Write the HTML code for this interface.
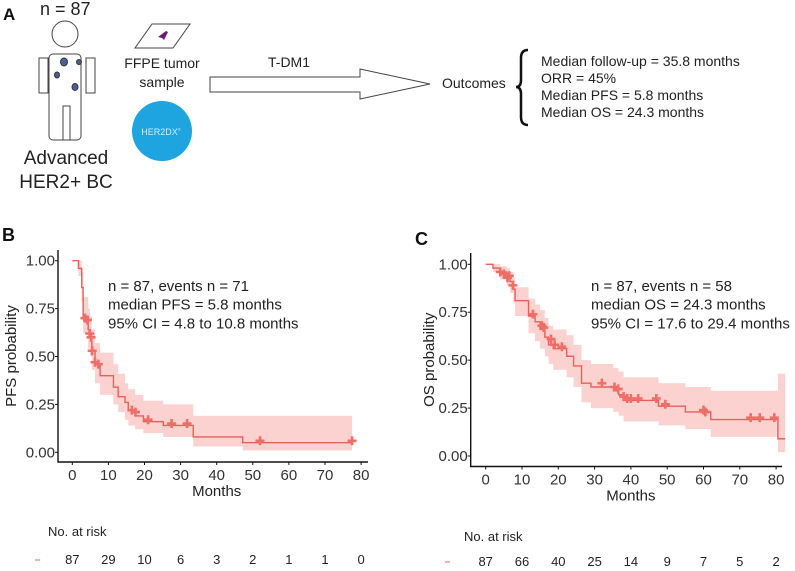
<!DOCTYPE html>
<html><head><meta charset="utf-8">
<style>
html,body{margin:0;padding:0;background:#fff;}
body{width:795px;height:566px;overflow:hidden;font-family:"Liberation Sans",sans-serif;}
svg text{font-family:"Liberation Sans",sans-serif;}
</style></head>
<body>
<svg id="fig" width="795" height="566" viewBox="0 0 795 566" xmlns="http://www.w3.org/2000/svg">
  <g>
    <text x="3" y="20" font-size="17" font-weight="bold" fill="#111">A</text>
    <text x="40" y="15" font-size="18" fill="#222">n = 87</text>
    <g fill="#fff" stroke="#444" stroke-width="1">
      <circle cx="65" cy="34" r="13"/>
      <rect x="49" y="54" width="32" height="86" rx="4"/>
      <rect x="39" y="58" width="9" height="35"/>
      <rect x="86" y="58" width="9" height="35"/>
      <rect x="63" y="106" width="7" height="34"/>
      <ellipse cx="64" cy="62" rx="3.5" ry="4" fill="#4a5f9a" stroke="#333"/>
      <ellipse cx="79" cy="62" rx="2.5" ry="2.5" fill="#4a5f9a" stroke="#333"/>
      <ellipse cx="57" cy="75" rx="2.5" ry="3" fill="#4a5f9a" stroke="#333"/>
      <ellipse cx="75" cy="87" rx="3" ry="3.5" fill="#4a5f9a" stroke="#333"/>
    </g>
    <text x="66" y="164" font-size="19" text-anchor="middle" fill="#222">Advanced</text>
    <text x="66" y="188" font-size="19" text-anchor="middle" fill="#222">HER2+ BC</text>
    <g>
      <polygon points="152,24 190,24 173,48 135,48" fill="#fff" stroke="#444" stroke-width="1"/>
      <path d="M158,37 L166,31 L168,32 L164,40 L162,38 Z" fill="#6b1a7a"/>
    </g>
    <text x="162" y="68" font-size="14" text-anchor="middle" fill="#222">FFPE tumor</text>
    <text x="162" y="87" font-size="14" text-anchor="middle" fill="#222">sample</text>
    <circle cx="162" cy="131" r="30" fill="#1ea5df"/>
    <text x="161" y="135" font-size="9" text-anchor="middle" fill="#cfeefb">HER2DX<tspan font-size="4" dy="-4">®</tspan></text>
    <polygon points="210,77 360,77 360,69 430,84 360,99 360,92 210,92" fill="#fff" stroke="#444" stroke-width="1"/>
    <text x="268" y="67" font-size="14" fill="#222">T-DM1</text>
    <text x="442" y="88" font-size="14" fill="#222">Outcomes</text>
    <path d="M528,50 Q521,50 521,58 L521,80 Q521,87 516,87 Q521,87 521,94 L521,117 Q521,125 528,125" fill="none" stroke="#111" stroke-width="2.5"/>
    <g font-size="14" fill="#222">
      <text x="541" y="66">Median follow-up = 35.8 months</text>
      <text x="541" y="83">ORR = 45%</text>
      <text x="541" y="100">Median PFS = 5.8 months</text>
      <text x="541" y="117">Median OS = 24.3 months</text>
    </g>
  </g>
  <g id="panelB"></g>
  <g id="panelC"></g>
</svg>
<script>
const pfsTimes = [0, 1.7, 2.6, 3.0, 4.4, 4.9, 5.4, 6.3, 7.7, 11.4, 12.7, 14.6, 15.5, 17.4, 19.7, 25.2, 33.5, 47.2, 77.5];
const pfsSurv  = [1.0, 0.96, 0.86, 0.71, 0.64, 0.60, 0.53, 0.46, 0.40, 0.34, 0.29, 0.26, 0.22, 0.19, 0.16, 0.14, 0.08, 0.05, 0.05];
const pfsLower = [1.0, 0.92, 0.79, 0.62, 0.54, 0.50, 0.43, 0.36, 0.30, 0.25, 0.21, 0.17, 0.14, 0.12, 0.10, 0.08, 0.03, 0.01, 0.01];
const pfsUpper = [1.0, 1.0, 0.94, 0.81, 0.75, 0.71, 0.64, 0.57, 0.52, 0.46, 0.41, 0.36, 0.33, 0.30, 0.27, 0.25, 0.19, 0.19, 0.19];
const pfsCensorT = [3.5, 4.2, 4.8, 5.2, 5.5, 6.3, 7.2, 16.5, 17.5, 21.0, 27.5, 31.8, 52, 77.5];
const pfsCensorS = [0.70, 0.69, 0.62, 0.60, 0.53, 0.47, 0.46, 0.22, 0.21, 0.17, 0.15, 0.15, 0.06, 0.06];
const pfsRisk = [87, 29, 10, 6, 3, 2, 1, 1, 0];

const osTimes = [0, 2, 4, 5.8, 6.7, 7.6, 8.1, 11.8, 13.6, 15, 16.3, 17.3, 18.6, 22.3, 24.2, 26.4, 29, 35.2, 36.6, 38, 47.6, 55, 62, 80.5, 82.5];
const osSurv  = [1.0, 0.98, 0.96, 0.94, 0.91, 0.87, 0.81, 0.73, 0.70, 0.66, 0.62, 0.58, 0.56, 0.52, 0.47, 0.38, 0.36, 0.34, 0.32, 0.29, 0.26, 0.23, 0.19, 0.09, 0.09];
const osLower = [1.0, 0.96, 0.92, 0.89, 0.85, 0.80, 0.73, 0.64, 0.60, 0.56, 0.52, 0.48, 0.45, 0.41, 0.36, 0.28, 0.25, 0.23, 0.21, 0.18, 0.16, 0.14, 0.10, 0.02, 0.02];
const osUpper = [1.0, 1.0, 0.99, 0.98, 0.96, 0.93, 0.88, 0.82, 0.79, 0.76, 0.72, 0.68, 0.66, 0.63, 0.58, 0.50, 0.48, 0.46, 0.44, 0.41, 0.38, 0.36, 0.34, 0.43, 0.43];
const osCensorT = [4, 5, 6, 6.5, 7.5, 13, 15.5, 16, 18, 19, 21, 32, 35.5, 36.5, 38, 39, 40, 42, 47, 49.5, 60, 60.5, 73, 75.5, 79.5];
const osCensorS = [0.96, 0.95, 0.93, 0.94, 0.89, 0.74, 0.68, 0.67, 0.61, 0.58, 0.57, 0.38, 0.36, 0.35, 0.31, 0.30, 0.30, 0.30, 0.30, 0.27, 0.24, 0.23, 0.20, 0.20, 0.20];
const osRisk = [87, 66, 40, 25, 14, 9, 7, 5, 2];

const xTicks = [0, 10, 20, 30, 40, 50, 60, 70, 80];
const yTicks = [0, 0.25, 0.5, 0.75, 1.0];
const yTickLabels = ["0.00", "0.25", "0.50", "0.75", "1.00"];

const NS = "http://www.w3.org/2000/svg";
function mk(parent, tag, attrs, text) {
  const e = document.createElementNS(NS, tag);
  for (const k in attrs) e.setAttribute(k, attrs[k]);
  if (text !== undefined) e.textContent = text;
  parent.appendChild(e);
  return e;
}

function drawKM(g, cfg, times, surv, lower, upper, cT, cS, risk) {
  const sx = m => cfg.x0 + m * cfg.pxPerMonth;
  const sy = p => cfg.y0 - p * cfg.pxPerUnit;
  const tEnd = cfg.tEnd;
  let up = "";
  for (let i = 0; i < times.length; i++) {
    const t1 = i + 1 < times.length ? times[i + 1] : tEnd;
    up += (i === 0 ? "M" : "L") + sx(times[i]) + "," + sy(upper[i]) + " L" + sx(t1) + "," + sy(upper[i]) + " ";
  }
  for (let i = times.length - 1; i >= 0; i--) {
    const t1 = i + 1 < times.length ? times[i + 1] : tEnd;
    up += "L" + sx(t1) + "," + sy(lower[i]) + " L" + sx(times[i]) + "," + sy(lower[i]) + " ";
  }
  const band = mk(g, "path", { d: up + "Z", fill: "#f8b4b0", "fill-opacity": "0.6" });
  
  
  let d = "";
  for (let i = 0; i < times.length; i++) {
    const t1 = i + 1 < times.length ? times[i + 1] : tEnd;
    d += (i === 0 ? "M" : "L") + sx(times[i]) + "," + sy(surv[i]) + " L" + sx(t1) + "," + sy(surv[i]) + " ";
  }
  const line = mk(g, "path", { d: d, fill: "none", stroke: "#e8605a", "stroke-width": "1.4" });
  
  
  for (let i = 0; i < cT.length; i++) {
    const cx = sx(cT[i]), cy = sy(cS[i]);
    const m = mk(g, "path", { d: `M${cx - 4.5},${cy} L${cx + 4.5},${cy} M${cx},${cy - 4.5} L${cx},${cy + 4.5}`, stroke: "#ee6e68", "stroke-width": "2.6" });
    
    
  }
  const ax = mk(g, "path", { d: `M${cfg.axX},${cfg.axTop} L${cfg.axX},${cfg.axBottom} L${cfg.axRight},${cfg.axBottom}`, fill: "none", stroke: "#111", "stroke-width": "1.4" });
  
  
  yTicks.forEach((v, i) => {
    const y = sy(v);
    mk(g, "line", { x1: cfg.axX - 3, x2: cfg.axX, y1: y, y2: y, stroke: "#111" });
    const t = mk(g, "text", { x: cfg.axX - 3, y: y + 5, "font-size": "15", "text-anchor": "end", fill: "#333" }, yTickLabels[i]);
    
    
  });
  xTicks.forEach(v => {
    const x = sx(v);
    mk(g, "line", { x1: x, x2: x, y1: cfg.axBottom, y2: cfg.axBottom + 3, stroke: "#111" });
    const t = mk(g, "text", { x: x, y: cfg.axBottom + 18, "font-size": "15", "text-anchor": "middle", fill: "#333" }, String(v));
    
    
  });
  const xt = mk(g, "text", { x: sx(40), y: cfg.axBottom + 34, "font-size": "15", "text-anchor": "middle", fill: "#222" }, "Months");
  
  
  const yt = mk(g, "text", { x: 0, y: 0, "font-size": "15", "text-anchor": "middle", fill: "#222", transform: `translate(${cfg.yTitleX},${(cfg.axTop + cfg.axBottom) / 2}) rotate(-90)` }, cfg.yTitle);
  
  
  const pl = mk(g, "text", { x: cfg.labelX, y: cfg.labelY, "font-size": "18", "font-weight": "bold", fill: "#111" }, cfg.label);
  
  
  cfg.annot.forEach((s, i) => {
    const a = mk(g, "text", { x: cfg.annX, y: cfg.annY + i * 18.7, "font-size": "15", fill: "#222" }, s);
    
    
  });
  const rt = mk(g, "text", { x: cfg.riskTitleX, y: cfg.riskTitleY, "font-size": "13", fill: "#222" }, "No. at risk");
  
  
  const dash = mk(g, "line", { x1: cfg.dashX, x2: cfg.dashX + 5, y1: cfg.riskY - 4, y2: cfg.riskY - 4, stroke: "#e8605a", "stroke-width": "1" });
  
  
  risk.forEach((n, i) => {
    const t = mk(g, "text", { x: sx(xTicks[i]), y: cfg.riskY, "font-size": "13", "text-anchor": "middle", fill: "#222" }, String(n));
    
    
  });
}

drawKM(document.getElementById("panelB"), {
  x0: 72.3, pxPerMonth: 3.61, y0: 452.3, pxPerUnit: 191.6, tEnd: 77.5,
  axX: 58, axTop: 250, axBottom: 462, axRight: 368, yTitleX: 16, yTitle: "PFS probability",
  label: "B", labelX: 2, labelY: 241,
  annot: ["n = 87, events n = 71", "median PFS = 5.8 months", "95% CI = 4.8 to 10.8 months"], annX: 108, annY: 291,
  riskTitleX: 48, riskTitleY: 536, dashX: 35, riskY: 564
}, pfsTimes, pfsSurv, pfsLower, pfsUpper, pfsCensorT, pfsCensorS, pfsRisk);

drawKM(document.getElementById("panelC"), {
  x0: 485.7, pxPerMonth: 3.63, y0: 456, pxPerUnit: 191.7, tEnd: 82.5,
  axX: 470.7, axTop: 253, axBottom: 466.5, axRight: 782, yTitleX: 434, yTitle: "OS probability",
  label: "C", labelX: 415, labelY: 245,
  annot: ["n = 87, events n = 58", "median OS = 24.3 months", "95% CI = 17.6 to 29.4 months"], annX: 591, annY: 291,
  riskTitleX: 464, riskTitleY: 541, dashX: 445, riskY: 566
}, osTimes, osSurv, osLower, osUpper, osCensorT, osCensorS, osRisk);
</script>
</body></html>
